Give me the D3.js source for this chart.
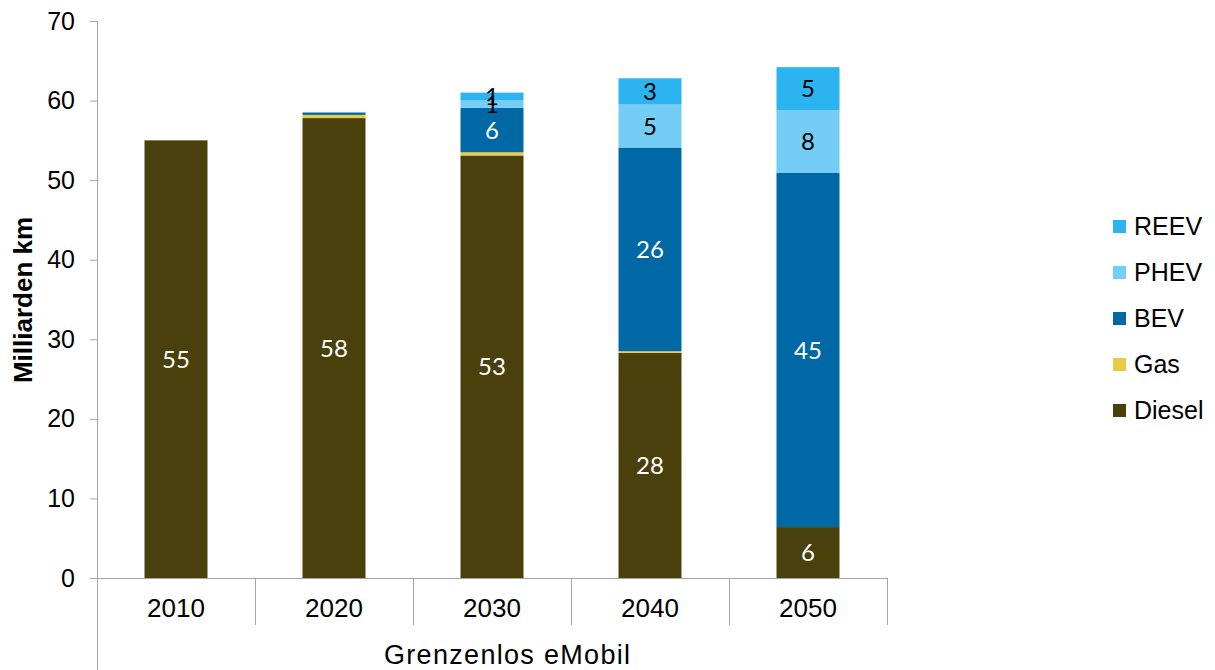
<!DOCTYPE html>
<html>
<head>
<meta charset="utf-8">
<script src="https://cdn.jsdelivr.net/npm/d3@7"></script>
<style>
  html, body { margin: 0; padding: 0; background: #fff; }
  svg { display: block; }
</style>
</head>
<body>
<svg id="chart" width="1215" height="670"></svg>
<script>
// Vehicle kilometres by drive type, scenario "Grenzenlos eMobil"
const years = ["2010", "2020", "2030", "2040", "2050"];
const seriesNames = ["Diesel", "Gas", "BEV", "PHEV", "REEV"];
const diesel = [55.0, 57.8, 53.1, 28.3, 6.4];
const gas    = [0.0, 0.4, 0.4, 0.2, 0.0];
const bev    = [0.0, 0.3, 5.6, 25.6, 44.5];
const phev   = [0.0, 0.0, 0.9, 5.4, 7.9];
const reev   = [0.0, 0.0, 1.0, 3.3, 5.4];
const yTicks = [0, 10, 20, 30, 40, 50, 60, 70];
const colors = ["#4a400c", "#e8cb43", "#0068a5", "#73cdf5", "#2bb4f0"];
const labelColors = ["#ffffff", "#000000", "#ffffff", "#000000", "#000000"];
const groupLabel = "Grenzenlos eMobil";
const yTitle = "Milliarden km";

const values = [diesel, gas, bev, phev, reev];
const rows = years.map((yr, i) => {
  const r = { year: yr };
  seriesNames.forEach((s, k) => r[s] = values[k][i]);
  return r;
});
const stacked = d3.stack().keys(seriesNames)(rows);

const svg = d3.select("#chart");
const plotLeft = 97, plotRight = 887, plotTop = 21, plotBottom = 578;
const axisColor = "#a6a6a6";
const font = "'Liberation Sans', Arial, sans-serif";

const x = d3.scaleBand().domain(years).range([plotLeft, plotRight]).paddingInner(0).paddingOuter(0);
const y = d3.scaleLinear().domain([0, 70]).range([plotBottom, plotTop]);
const barW = 63;

// bars
const layer = svg.append("g").selectAll("g").data(stacked).join("g")
  .attr("fill", (d, i) => colors[i]);
layer.selectAll("rect").data(d => d).join("rect")
  .attr("x", d => x(d.data.year) + x.bandwidth() / 2 - barW / 2)
  .attr("width", barW)
  .attr("y", d => y(d[1]))
  .attr("height", d => Math.max(0, y(d[0]) - y(d[1])));

// value labels
stacked.forEach((s, k) => {
  svg.append("g").selectAll("text")
    .data(s.filter(d => d[1] - d[0] >= 0.5))
    .join("text")
    .attr("x", d => x(d.data.year) + x.bandwidth() / 2)
    .attr("y", d => y((d[0] + d[1]) / 2))
    .attr("dy", "0.36em")
    .attr("text-anchor", "middle")
    .attr("font-family", "Lato, 'Open Sans', sans-serif")
    .attr("font-size", 24)
    .attr("fill", labelColors[k])
    .text(d => Math.round(d[1] - d[0]));
});

// y axis
const yAxis = d3.axisLeft(y).tickValues(yTicks).tickSize(7).tickPadding(15).tickSizeOuter(0);
const gy = svg.append("g").attr("transform", `translate(${plotLeft},0)`).call(yAxis);
gy.select(".domain").remove();
gy.selectAll(".tick line").attr("stroke", axisColor);
gy.selectAll(".tick text")
  .attr("font-family", font)
  .attr("font-size", 25).attr("fill", "#000");
svg.append("line").attr("x1", plotLeft + 0.5).attr("x2", plotLeft + 0.5)
  .attr("y1", plotTop).attr("y2", 670).attr("stroke", axisColor);

// x axis line and category separators
svg.append("line").attr("x1", plotLeft).attr("x2", plotRight)
  .attr("y1", plotBottom + 0.5).attr("y2", plotBottom + 0.5).attr("stroke", axisColor);
const seps = years.map(d => x(d)).concat([plotRight]);
svg.append("g").selectAll("line").data(seps.slice(1)).join("line")
  .attr("x1", d => Math.round(d) + 0.5).attr("x2", d => Math.round(d) + 0.5)
  .attr("y1", plotBottom).attr("y2", 625).attr("stroke", axisColor);
svg.append("g").selectAll("text").data(years).join("text")
  .attr("x", d => x(d) + x.bandwidth() / 2)
  .attr("y", 608)
  .attr("dy", "0.36em")
  .attr("text-anchor", "middle")
  .attr("font-family", font)
  .attr("font-size", 26)
  .text(d => d);
svg.append("text")
  .attr("x", 507).attr("y", 654).attr("dy", "0.36em")
  .attr("text-anchor", "middle")
  .attr("font-family", font)
  .attr("font-size", 27)
  .attr("textLength", 246)
  .text(groupLabel);

// y title
svg.append("text")
  .attr("transform", "translate(23,300) rotate(-90)")
  .attr("text-anchor", "middle")
  .attr("dy", "0.36em")
  .attr("font-family", font)
  .attr("font-weight", "bold")
  .attr("font-size", 26)
  .text(yTitle);

// legend (top-down: REEV ... Diesel)
const legendOrder = seriesNames.map((n, i) => ({ name: n, color: colors[i] })).reverse();
const lg = svg.append("g").selectAll("g").data(legendOrder).join("g")
  .attr("transform", (d, i) => `translate(1113,${226 + i * 46})`);
lg.append("rect").attr("x", 0).attr("y", -6).attr("width", 13).attr("height", 13)
  .attr("fill", d => d.color);
lg.append("text").attr("x", 21).attr("y", 0).attr("dy", "0.36em")
  .attr("font-family", font)
  .attr("font-size", 25)
  .text(d => d.name);
</script>
</body>
</html>
